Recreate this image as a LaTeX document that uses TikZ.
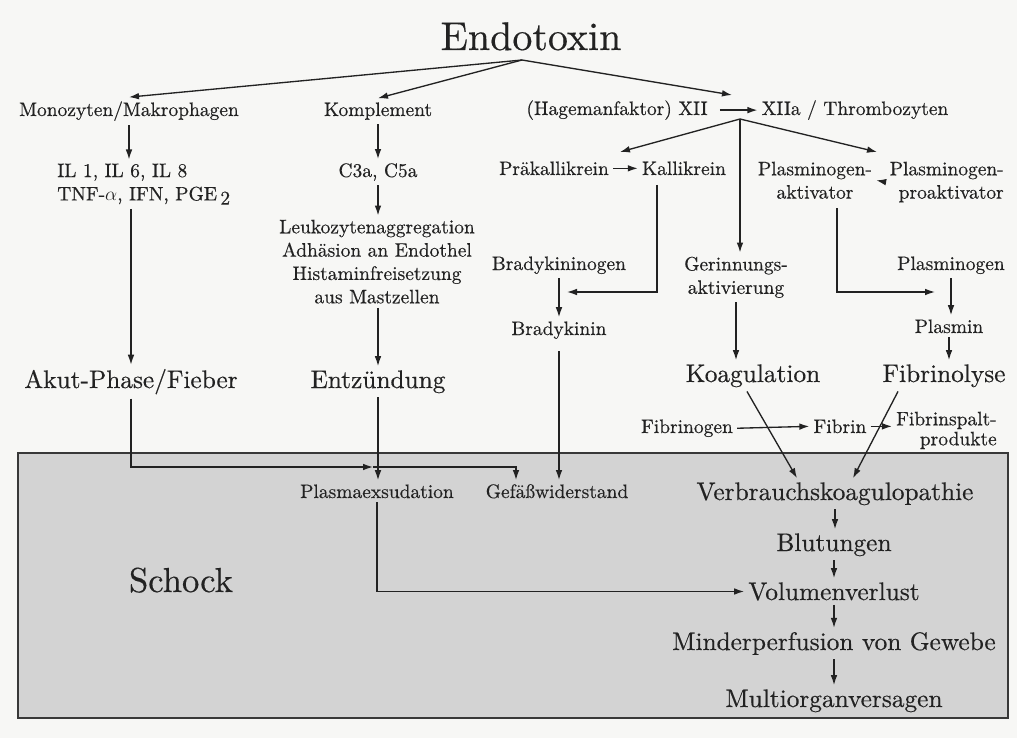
\documentclass[tikz,border=0pt]{standalone}
\usepackage{fontspec}
\setmainfont{lmroman10-regular.otf}[FakeBold=0.4]
\usetikzlibrary{arrows.meta,calc}
\definecolor{ink}{HTML}{222222}
\definecolor{bgc}{HTML}{F7F7F5}
\definecolor{boxgray}{HTML}{D3D3D3}
\definecolor{boxline}{HTML}{383838}
\newcommand\szN{\fontsize{14.6}{17.5}\selectfont}
\newcommand\szL{\fontsize{19}{22}\selectfont}
\newcommand\szS{\fontsize{26}{30}\selectfont}
\newcommand\szE{\fontsize{30}{34}\selectfont}
\begin{document}
\begin{tikzpicture}[x=0.75pt,y=-0.75pt,
 lbl/.style={inner sep=3pt,text=ink,font=\szN,anchor=base},
 big/.style={lbl,font=\szL},
 blk/.style={inner sep=3pt,text=ink,font=\szN},
 arr/.style={draw=ink,line width=1pt,-{Latex[length=7.5pt,width=5pt]}}]
% background and shock box
\fill[bgc] (0,0) rectangle (1017,738);
\path[fill=boxgray,draw=boxline,line width=1.2pt] (18,453) rectangle (1008,718);

% nodes
\node[lbl,font=\szE] (endo) at (531,50) {Endotoxin};
\node[lbl] (mono) at (129,116) {Monozyten/Makrophagen};
\node[lbl] (komp) at (378,116) {Komplement};
\node[lbl] (xii) at (617,115) {(Hagemanfaktor) XII};
\node[lbl] (xiia) at (855,115) {XIIa / Thrombozyten};
\node[blk,anchor=north west,align=left] (il) at (53,159.5) {IL 1, IL 6, IL 8\\TNF-$\alpha$, IFN, PGE\,\raisebox{-0.5ex}{2}};
\node[lbl] (c3a) at (378,177) {C3a, C5a};
\node[blk,anchor=north,align=center] (leuko) at (377,215.5) {Leukozytenaggregation\\Adhäsion an Endothel\\Histaminfreisetzung\\aus Mastzellen};
\node[lbl] (prae) at (554,175) {Präkallikrein};
\node[lbl] (kalli) at (684,175) {Kallikrein};
\node[blk,anchor=north,align=center] (pakt) at (815,157.5) {Plasminogen-\\aktivator};
\node[blk,anchor=north east,align=right] (ppro) at (1008,157.5) {Plasminogen-\\proaktivator};
\node[lbl] (bkg) at (559,270) {Bradykininogen};
\node[blk,anchor=north,align=center] (ger) at (736,252.5) {Gerinnungs-\\aktivierung};
\node[lbl] (plg) at (951,270) {Plasminogen};
\node[lbl] (bk) at (559,335) {Bradykinin};
\node[lbl] (plm) at (949,333) {Plasmin};
\node[big] (akut) at (131,388) {Akut-Phase/Fieber};
\node[big] (entz) at (378,388) {Entzündung};
\node[big] (koag) at (753,382) {Koagulation};
\node[big] (fibl) at (944,382) {Fibrinolyse};
\node[lbl] (fbg) at (687,433) {Fibrinogen};
\node[lbl] (fbn) at (840,433) {Fibrin};
\node[blk,anchor=north east,align=right,font=\fontsize{14.6}{15}\selectfont] (fsp) at (1001,407.5) {Fibrinspalt-\\produkte};
\node[lbl] (plex) at (377,498) {Plasmaexsudation};
\node[lbl] (gef) at (557,498) {Gefäßwiderstand};
\node[big] (verb) at (835,500) {Verbrauchskoagulopathie};
\node[big] (blut) at (834,551) {Blutungen};
\node[big] (vol) at (834,600) {Volumenverlust};
\node[big] (mind) at (834,650) {Minderperfusion von Gewebe};
\node[big] (multi) at (834,707) {Multiorganversagen};
\node[lbl,font=\szS] (schock) at (181,592) {Schock};

% coordinates
\coordinate (eo) at (522,60);
\coordinate (xiit) at (732,95);
\coordinate (xo) at (740,119);
\coordinate (kt) at (620,152);
\coordinate (pt) at (877,152);
\coordinate (kb1) at (657,292);
\coordinate (kb2) at (567,292);
\coordinate (pb1) at (837,292);
\coordinate (pb2) at (935,292);
\coordinate (j1) at (373,467);
\coordinate (j2) at (516,467);

% connectors
\draw[arr] (eo) -- (mono.north);
\draw[arr] (eo) -- (komp.north);
\draw[arr] (eo) -- (xiit);
\draw[arr] (mono.south) -- (mono.south |- il.north);
\draw[arr] (komp.south) -- (c3a.north);
\draw[arr] (c3a.south) -- (c3a.south |- leuko.north);
\draw[arr] (akut.north |- il.south) -- (akut.north);
\draw[arr] (entz.north |- leuko.south) -- (entz.north);
\draw[arr,shorten <=6pt] (xii.east) -- (xiia.west);
\draw[arr] (xo) -- (kt);
\draw[arr] (xo) -- (pt);
\draw[arr] (xo) -- (xo |- ger.north);
\draw[arr] (prae.east) -- (kalli.west);
\draw[arr,shorten <=4pt] (kalli.south -| kb1) -- (kb1) -- (kb2);
\draw[arr,shorten <=4pt] (pakt.south -| pb1) -- (pb1) -- (pb2);
\draw[arr] (ppro.west) -- (pakt.east);
\draw[arr] (bkg.south) -- (bk.north);
\draw[arr,shorten <=6pt] (bk.south) -- (bk.south |- gef.north);
\draw[arr] (plg.south) -- (plg.south |- plm.north);
\draw[arr] (plm.south) -- (plm.south |- fibl.north);
\draw[arr] (ger.south) -- (ger.south |- koag.north);
\draw[arr] ($(koag.south)+(-6,0)$) -- ($(verb.north)+(-38,0)$);
\draw[arr] ($(fibl.south)+(-46,0)$) -- ($(verb.north)+(18,0)$);
\draw[arr] (fbg.east) -- (fbn.west);
\draw[arr] (fbn.east) -- (fbn.east -| fsp.west);
\draw[arr] (akut.south) |- (j1);
\draw[arr] (j1) -- (j2) -- (j2 |- gef.north);
\draw[arr] (entz.south) -- (entz.south |- plex.north);
\draw[arr] (plex.south) |- (vol.west);
\draw[arr] (verb.south) -- (verb.south |- blut.north);
\draw[arr] (blut.south) -- (blut.south |- vol.north);
\draw[arr] (vol.south) -- (vol.south |- mind.north);
\draw[arr] (mind.south) -- (mind.south |- multi.north);
\end{tikzpicture}
\end{document}
